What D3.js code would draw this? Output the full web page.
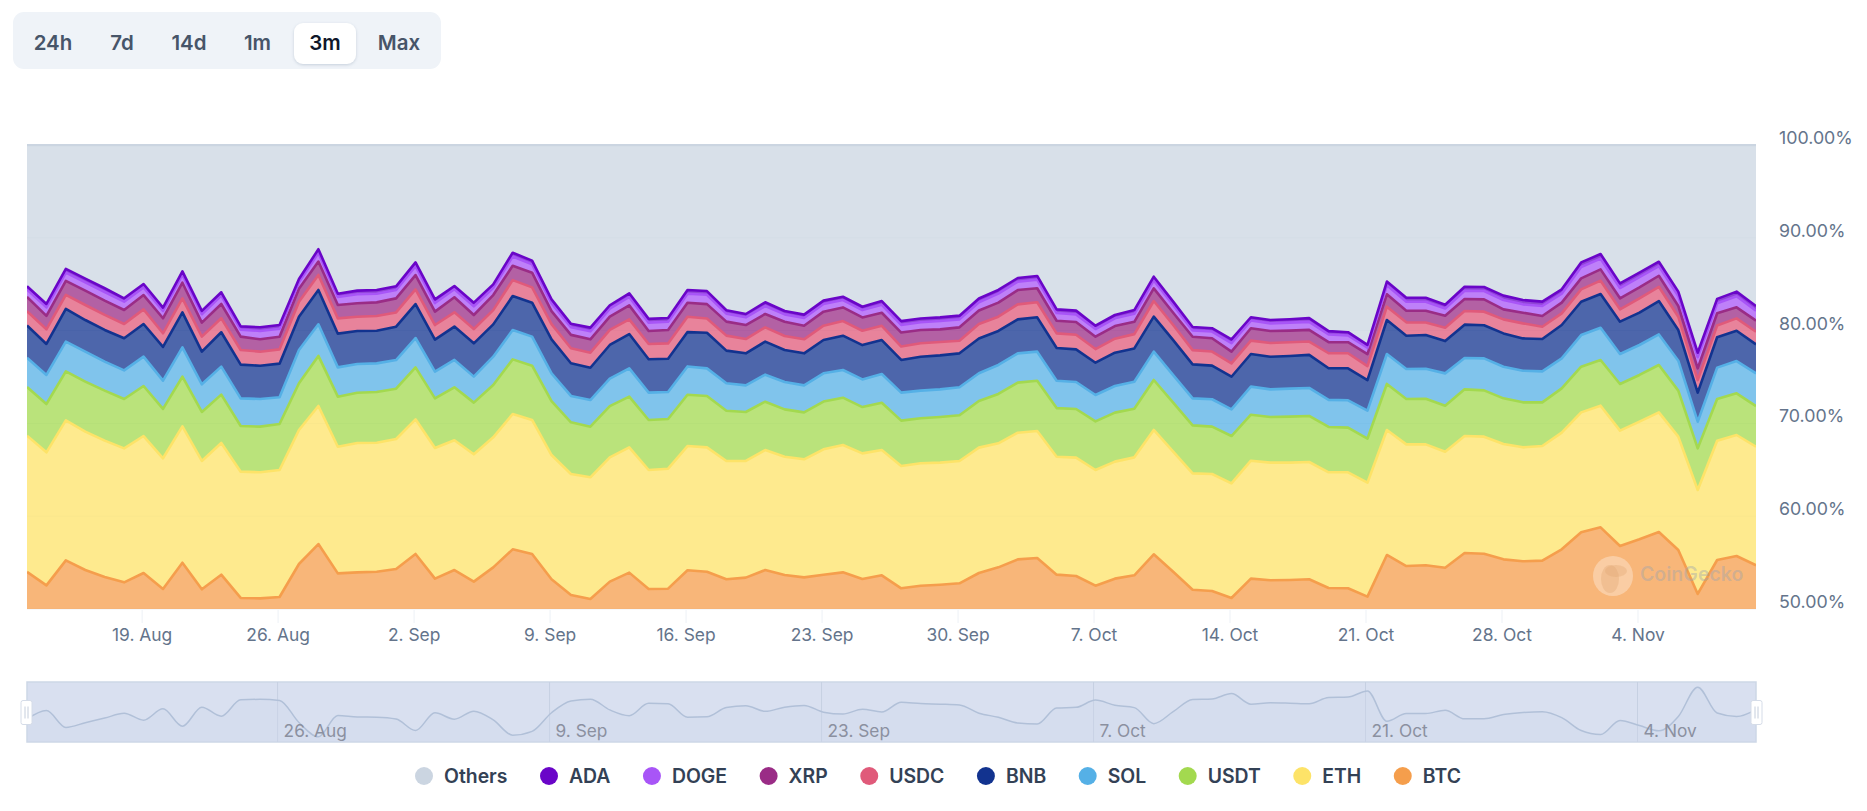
<!DOCTYPE html>
<html>
<head>
<meta charset="utf-8">
<style>
  html, body { margin: 0; padding: 0; background: #fff; }
  svg { display: block; font-family: Inter, "Noto Sans", sans-serif; }
</style>
<script src="https://cdn.jsdelivr.net/npm/d3@7"></script>
</head>
<body>
<svg id="chart" width="1867" height="811"></svg>
<script>
// share of total market cap per day
const btc = [54.0,52.55,55.24,54.2,53.45,52.87,53.88,52.16,54.99,52.12,53.7,51.19,51.15,51.29,54.85,57.0,53.84,53.95,54.02,54.31,55.93,53.27,54.2,52.95,54.49,
  56.43,55.93,53.2,51.51,51.08,52.95,53.92,52.16,52.19,54.17,54.02,53.2,53.38,54.2,53.66,53.41,53.7,53.95,53.23,53.63,52.23,52.51,52.62,52.77,53.88,54.49,
  55.35,55.5,53.7,53.56,52.51,53.27,53.63,55.89,54.02,52.08,51.94,51.19,53.27,53.09,53.13,53.2,52.26,52.23,51.33,55.82,54.63,54.71,54.45,56.03,55.96,
  55.35,55.14,55.21,56.43,58.26,58.8,56.79,57.51,58.3,56.36,51.62,55.28,55.71,54.71];
const eth = [14.68,14.33,15.09,14.91,14.69,14.44,14.76,14.08,14.69,13.83,14.19,13.61,13.58,13.69,14.44,14.88,13.65,13.94,13.9,14.01,14.51,14.08,13.98,13.72,14.01,
  14.58,14.44,13.39,13.04,13.11,13.39,13.5,12.82,12.93,13.39,13.4,12.75,12.57,12.93,12.75,12.72,13.51,13.72,13.54,13.5,13.18,13.19,13.15,13.18,13.51,13.36,
  13.65,13.68,12.71,12.75,12.47,12.61,12.71,13.4,12.93,12.54,12.61,12.35,12.71,12.68,12.64,12.64,12.47,12.5,12.28,13.47,13.11,13.03,12.5,12.61,12.61,
  12.43,12.28,12.35,12.57,12.93,13.11,12.43,12.68,12.89,12.21,11.2,12.86,13.04,12.78];
const usdt = [5.24,5.21,5.28,5.39,5.39,5.32,5.39,5.32,5.35,5.28,5.21,4.92,4.92,4.96,5.03,5.39,5.39,5.42,5.46,5.42,5.6,5.35,5.71,5.57,5.64,
  5.89,5.85,5.82,5.57,5.46,5.53,5.46,5.39,5.35,5.53,5.53,5.42,5.28,5.21,5.1,5.06,5.14,5.1,4.99,5.1,4.89,4.85,4.92,4.92,5.03,5.32,
  5.39,5.42,5.24,5.24,5.24,5.28,5.24,5.39,5.28,5.17,5.1,5.1,4.96,4.92,4.96,4.96,4.89,4.81,4.74,4.96,4.89,4.92,4.96,5.03,4.99,
  4.92,4.85,4.71,4.78,4.92,4.92,5.03,5.03,5.1,4.96,4.49,4.49,4.49,4.38];
const sol = [3.16,3.13,3.2,3.23,3.13,3.09,3.16,3.05,3.16,2.98,3.02,2.98,2.98,2.87,3.59,3.41,3.16,3.09,3.09,3.09,3.16,2.87,2.95,2.8,3.05,
  3.16,3.13,2.98,2.84,2.87,2.95,3.05,2.95,2.91,3.05,2.98,2.95,2.87,2.91,2.95,2.91,3.05,2.98,2.98,3.09,3.02,2.98,2.98,3.02,2.98,3.13,
  3.16,3.13,2.95,2.91,2.84,2.87,2.91,3.05,2.98,2.91,2.95,2.87,3.02,2.98,3.02,3.02,2.91,2.95,3.02,3.23,3.23,3.23,3.48,3.38,3.45,
  3.41,3.41,3.34,3.23,3.41,3.48,3.23,3.23,3.3,3.23,2.87,3.38,3.48,3.52];
const bnb = [3.48,3.34,3.52,3.41,3.41,3.45,3.52,3.63,3.77,3.52,3.7,3.63,3.59,3.63,3.59,3.7,3.63,3.56,3.52,3.59,3.66,3.45,3.59,3.59,3.48,
  3.66,3.66,3.66,3.52,3.48,3.63,3.7,3.59,3.59,3.7,3.84,3.52,3.45,3.56,3.45,3.45,3.59,3.7,3.7,3.66,3.52,3.66,3.66,3.66,3.74,3.66,
  3.66,3.7,3.52,3.52,3.48,3.59,3.59,3.77,3.77,3.66,3.63,3.52,3.52,3.52,3.52,3.56,3.41,3.45,3.3,3.66,3.59,3.63,3.48,3.59,3.56,
  3.59,3.48,3.48,3.59,3.59,3.63,3.48,3.48,3.59,3.3,3.13,3.27,3.27,3.13];
const usdc = [1.54,1.58,1.51,1.62,1.62,1.54,1.58,1.47,1.51,1.62,1.51,1.58,1.51,1.54,1.62,1.62,1.65,1.54,1.58,1.54,1.58,1.58,1.54,1.54,1.54,
  1.72,1.65,1.65,1.62,1.62,1.62,1.58,1.65,1.65,1.65,1.54,1.62,1.54,1.54,1.51,1.51,1.54,1.58,1.54,1.54,1.44,1.44,1.44,1.36,1.58,1.54,
  1.62,1.62,1.58,1.58,1.47,1.51,1.54,1.69,1.62,1.54,1.51,1.44,1.44,1.47,1.47,1.44,1.62,1.62,1.51,1.44,1.44,1.36,1.44,1.47,1.47,
  1.51,1.62,1.33,1.26,1.33,1.44,1.33,1.54,1.54,1.44,1.36,1.26,1.33,1.36];
const xrp = [1.54,1.44,1.51,1.54,1.54,1.51,1.54,1.62,1.69,1.51,1.54,1.44,1.33,1.36,1.4,1.44,1.44,1.44,1.47,1.51,1.54,1.44,1.62,1.51,1.62,
  1.54,1.58,1.4,1.44,1.44,1.44,1.51,1.4,1.44,1.51,1.54,1.51,1.51,1.44,1.54,1.47,1.51,1.47,1.44,1.4,1.51,1.44,1.36,1.44,1.44,1.51,
  1.54,1.51,1.36,1.36,1.33,1.36,1.33,1.36,1.33,1.44,1.44,1.26,1.33,1.29,1.26,1.26,1.19,1.19,1.29,1.33,1.26,1.26,1.29,1.29,1.33,
  1.08,1.15,1.15,1.15,1.19,1.22,1.19,1.19,1.19,1.15,1.26,1.33,1.19,1.19];
const doge = [.79,.93,.9,.9,.93,.9,.83,.79,.86,.9,.9,.75,.9,.86,.72,.93,.86,.97,.93,.9,.97,.93,.86,.93,.79,
  1.01,.9,.86,.83,.86,.86,.9,.9,.9,.97,1.01,.86,.83,.86,.79,.83,.83,.79,.79,.86,.83,.83,.9,.86,.9,.97,
  .9,.93,.83,.83,.83,.83,.86,.86,.83,.68,.72,.93,.83,.83,.86,.86,.83,.72,.68,.97,.97,.97,.79,.9,.9,
  1.01,.9,1.08,.97,1.22,1.15,1.11,1.11,1.04,1.08,1.22,1.08,1.19,1.08];
const ada = [.36,.36,.4,.4,.4,.36,.36,.36,.36,.36,.36,.36,.4,.4,.32,.4,.36,.4,.4,.4,.4,.4,.36,.4,.36,
  .4,.4,.4,.36,.4,.36,.4,.4,.4,.4,.4,.36,.36,.4,.36,.36,.36,.36,.36,.4,.4,.4,.4,.4,.4,.4,
  .4,.4,.4,.4,.36,.36,.4,.4,.36,.36,.36,.4,.36,.36,.36,.4,.36,.36,.32,.4,.43,.43,.4,.43,.43,
  .47,.47,.47,.47,.5,.5,.5,.47,.47,.47,.47,.47,.5,.5];

const coins = ['BTC', 'ETH', 'USDT', 'SOL', 'BNB', 'USDC', 'XRP', 'DOGE', 'ADA', 'Others'];
const legendOrder = ['Others', 'ADA', 'DOGE', 'XRP', 'USDC', 'BNB', 'SOL', 'USDT', 'ETH', 'BTC'];
const colors = {
  BTC: '#f59e4c', ETH: '#fde368', USDT: '#a3d94f', SOL: '#55b0e6', BNB: '#12338f',
  USDC: '#e05a7a', XRP: '#9a2c86', DOGE: '#a855f7', ADA: '#6a05c8', Others: '#cbd5e1'
};
const rangeButtons = ['24h', '7d', '14d', '1m', '3m', 'Max'];
const yTicks = [50, 60, 70, 80, 90, 100];
const firstWeekTick = new Date(Date.UTC(2024, 7, 19));
const navFirstTick = new Date(Date.UTC(2024, 7, 26));
const startDate = new Date(Date.UTC(2024, 7, 13, 2, 24));

const rows = btc.map((v, i) => {
  const row = {
    date: d3.utcDay.offset(startDate, i),
    BTC: v, ETH: eth[i], USDT: usdt[i], SOL: sol[i], BNB: bnb[i],
    USDC: usdc[i], XRP: xrp[i], DOGE: doge[i], ADA: ada[i]
  };
  row.Others = 100 - (v + eth[i] + usdt[i] + sol[i] + bnb[i] + usdc[i] + xrp[i] + doge[i] + ada[i]);
  return row;
});

const plot = { left: 27, right: 1756, top: 145, bottom: 609 };
const nav = { top: 682, bottom: 742 };

const x = d3.scaleUtc().domain(d3.extent(rows, d => d.date)).range([plot.left, plot.right]);
const y = d3.scaleLinear().domain([50, 100]).range([plot.bottom, plot.top]);

const svg = d3.select('#chart');
const defs = svg.append('defs');
defs.append('clipPath').attr('id', 'plotClip').append('rect')
  .attr('x', plot.left).attr('y', plot.top - 1)
  .attr('width', plot.right - plot.left).attr('height', plot.bottom - plot.top + 1);
const shadow = defs.append('filter').attr('id', 'btnShadow')
  .attr('x', '-20%').attr('y', '-20%').attr('width', '140%').attr('height', '150%');
shadow.append('feDropShadow').attr('dx', 0).attr('dy', 1).attr('stdDeviation', 1.5)
  .attr('flood-color', '#94a3b8').attr('flood-opacity', 0.45);

// range selector
const btnX = [53, 122, 189, 257.5, 325, 399];
svg.append('rect').attr('x', 13).attr('y', 12).attr('width', 428).attr('height', 57)
  .attr('rx', 11).attr('fill', '#eff3f8');
svg.append('rect').attr('x', 294).attr('y', 23).attr('width', 62).attr('height', 41)
  .attr('rx', 9).attr('fill', '#fff').attr('filter', 'url(#btnShadow)');
svg.append('g').selectAll('text').data(rangeButtons).join('text')
  .attr('x', (d, i) => btnX[i]).attr('y', 42.5)
  .attr('dy', '.35em').attr('text-anchor', 'middle')
  .attr('font-size', 20.5).attr('font-weight', 600)
  .attr('fill', d => d === '3m' ? '#0f172a' : '#475569')
  .text(d => d);

// grid sits under the translucent areas
svg.append('g').selectAll('line').data(yTicks).join('line')
  .attr('x1', plot.left).attr('x2', plot.right)
  .attr('y1', d => y(d)).attr('y2', d => y(d))
  .attr('stroke', '#eef1f6');

const stack = d3.stack().keys(coins);
const series = stack(rows);

const area = d3.area().x(d => x(d.data.date)).y0(d => y(d[0])).y1(d => y(d[1]));
const topLine = d3.line().x(d => x(d.data.date)).y(d => y(d[1]));

const bands = svg.append('g').attr('clip-path', 'url(#plotClip)');
bands.selectAll('path.band').data(series).join('path')
  .attr('class', 'band')
  .attr('d', area)
  .attr('fill', d => colors[d.key])
  .attr('fill-opacity', 0.75);
bands.selectAll('path.edge').data(series).join('path')
  .attr('class', 'edge')
  .attr('d', topLine)
  .attr('fill', 'none')
  .attr('stroke', d => colors[d.key])
  .attr('stroke-width', 2.6)
  .attr('stroke-linejoin', 'round');

// watermark
const mark = svg.append('g');
mark.append('circle').attr('cx', 1613).attr('cy', 576).attr('r', 20)
  .attr('fill', '#fff').attr('fill-opacity', 0.32);
mark.append('ellipse').attr('cx', 1610).attr('cy', 579).attr('rx', 9).attr('ry', 14)
  .attr('fill', '#e0a673').attr('fill-opacity', 0.35);
mark.append('ellipse').attr('cx', 1616).attr('cy', 571).attr('rx', 11).attr('ry', 6)
  .attr('fill', '#e0a673').attr('fill-opacity', 0.35);
mark.append('text').attr('x', 1640).attr('y', 574).attr('dy', '.35em')
  .attr('font-size', 19.5).attr('font-weight', 600)
  .attr('fill', '#9ca3af').attr('fill-opacity', 0.42)
  .text('CoinGecko');

// axes
const weekTicks = d3.range(0, 12).map(i => d3.utcDay.offset(firstWeekTick, i * 7));
const xAxis = d3.axisBottom(x)
  .tickValues(weekTicks)
  .tickFormat(d3.utcFormat('%-d. %b'))
  .tickSize(13)
  .tickPadding(6);
const gx = svg.append('g').attr('transform', `translate(0,${plot.bottom + 1})`).call(xAxis);
gx.select('.domain').remove();
gx.selectAll('line').attr('stroke', '#edf1f6');
gx.selectAll('text').attr('font-size', 17.4).attr('font-family', 'Inter').attr('fill', '#64748b');

const yAxis = d3.axisRight(y)
  .tickValues(yTicks)
  .tickFormat(d => d.toFixed(2) + '%')
  .tickSize(0)
  .tickPadding(23);
const gy = svg.append('g').attr('transform', `translate(${plot.right},0)`).call(yAxis);
gy.select('.domain').remove();
gy.selectAll('text').attr('font-size', 17.8).attr('font-family', 'Inter').attr('fill', '#64748b')
  .attr('dy', '-0.08em');

// navigator
const navY = d3.scaleLinear()
  .domain([d3.min(rows, d => d.Others) - 1.15, d3.max(rows, d => d.Others) + 1.15])
  .range([nav.bottom, nav.top]);
const navTicks = d3.range(0, 6).map(i => d3.utcDay.offset(navFirstTick, i * 14));

svg.append('rect')
  .attr('x', plot.left).attr('y', nav.top)
  .attr('width', plot.right - plot.left).attr('height', nav.bottom - nav.top)
  .attr('fill', '#d9e0f0').attr('stroke', '#cdd7e6').attr('stroke-width', 1.5);
svg.append('g').selectAll('line').data(navTicks).join('line')
  .attr('x1', d => x(d)).attr('x2', d => x(d))
  .attr('y1', nav.top).attr('y2', nav.bottom)
  .attr('stroke', '#c6d0e2');
svg.append('path').datum(rows)
  .attr('d', d3.area().x(d => x(d.date)).y0(nav.bottom).y1(d => navY(d.Others)).curve(d3.curveMonotoneX))
  .attr('fill', '#cfd8ea').attr('fill-opacity', 0.35);
svg.append('path').datum(rows)
  .attr('d', d3.line().x(d => x(d.date)).y(d => navY(d.Others)).curve(d3.curveMonotoneX))
  .attr('fill', 'none').attr('stroke', '#b1c0d8').attr('stroke-width', 1.5);
svg.append('g').selectAll('text').data(navTicks).join('text')
  .attr('x', d => x(d) + 6).attr('y', 731).attr('dy', '.35em')
  .attr('font-size', 17.3).attr('fill', '#8b90a0')
  .text(d3.utcFormat('%-d. %b'));

[plot.left - 0.5, plot.right + 0.5].forEach(hx => {
  const h = svg.append('g').attr('transform', `translate(${hx},712.5)`);
  h.append('rect').attr('x', -5.5).attr('y', -12).attr('width', 11).attr('height', 24)
    .attr('rx', 2).attr('fill', '#fff').attr('stroke', '#d5dce8');
  [-1.5, 1.5].forEach(o => h.append('line')
    .attr('x1', o).attr('x2', o).attr('y1', -6).attr('y2', 6).attr('stroke', '#c5cedc'));
});

// legend, laid out left to right from measured text
let legendX = 415;
legendOrder.forEach(name => {
  const item = svg.append('g');
  item.append('circle').attr('cx', legendX + 9).attr('cy', 776).attr('r', 9).attr('fill', colors[name]);
  const label = item.append('text')
    .attr('x', legendX + 29).attr('y', 776).attr('dy', '.35em')
    .attr('font-size', 19.4).attr('font-weight', 600).attr('fill', '#334155')
    .text(name);
  legendX += 29 + label.node().getComputedTextLength() + 32.5;
});
</script>
</body>
</html>
